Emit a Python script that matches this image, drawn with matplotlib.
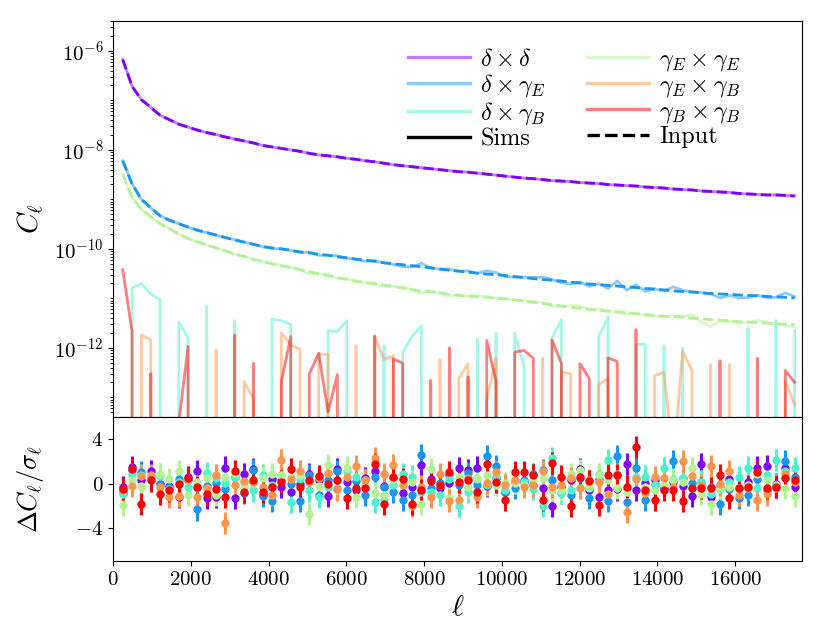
import numpy as np
import matplotlib
matplotlib.use('Agg')
import matplotlib.pyplot as plt
from matplotlib.lines import Line2D
from matplotlib.ticker import FixedLocator, NullFormatter, LogFormatterMathtext

plt.rcParams['font.family'] = 'serif'
plt.rcParams['font.serif'] = ['cmr10']
plt.rcParams['mathtext.fontset'] = 'cm'
plt.rcParams['axes.formatter.use_mathtext'] = True
plt.rcParams['axes.unicode_minus'] = True

# multipole bin centres
ells = np.arange(250, 17531, 240)

# input spectra, log10 C_ell
dd_log = [-6.175, -6.716, -6.986, -7.14, -7.30, -7.39, -7.48, -7.54, -7.60, -7.65,
          -7.69, -7.74, -7.78, -7.82, -7.86, -7.91, -7.94, -7.97, -8.00, -8.03,
          -8.07, -8.10, -8.12, -8.14, -8.17, -8.19, -8.22, -8.24, -8.27, -8.30,
          -8.32, -8.34, -8.36, -8.38, -8.40, -8.42, -8.44, -8.45, -8.47, -8.49,
          -8.51, -8.53, -8.55, -8.57, -8.58, -8.60, -8.62, -8.63, -8.64, -8.66,
          -8.67, -8.68, -8.70, -8.71, -8.72, -8.73, -8.75, -8.76, -8.77, -8.79,
          -8.80, -8.81, -8.83, -8.84, -8.85, -8.86, -8.88, -8.89, -8.90, -8.91,
          -8.91, -8.92, -8.93]
dg_log = [-8.22, -8.69, -9.00, -9.17, -9.33, -9.42, -9.49, -9.56, -9.62, -9.67,
          -9.72, -9.77, -9.82, -9.86, -9.91, -9.95, -9.98, -10.00, -10.03, -10.06,
          -10.08, -10.11, -10.13, -10.16, -10.18, -10.21, -10.23, -10.25, -10.28, -10.30,
          -10.32, -10.34, -10.36, -10.38, -10.41, -10.43, -10.45, -10.47, -10.49, -10.51,
          -10.52, -10.54, -10.56, -10.58, -10.60, -10.62, -10.63, -10.65, -10.67, -10.69,
          -10.71, -10.72, -10.74, -10.75, -10.77, -10.78, -10.80, -10.81, -10.83, -10.85,
          -10.86, -10.87, -10.89, -10.90, -10.91, -10.92, -10.93, -10.94, -10.95, -10.96,
          -10.97, -10.98, -10.99]
gg_log = [-8.49, -8.96, -9.20, -9.35, -9.49, -9.59, -9.70, -9.79, -9.86, -9.92,
          -9.98, -10.04, -10.11, -10.15, -10.21, -10.26, -10.30, -10.34, -10.38, -10.42,
          -10.46, -10.50, -10.54, -10.58, -10.62, -10.65, -10.68, -10.70, -10.73, -10.76,
          -10.79, -10.83, -10.85, -10.87, -10.89, -10.92, -10.94, -10.95, -10.97, -10.98,
          -11.00, -11.01, -11.03, -11.05, -11.08, -11.10, -11.13, -11.15, -11.18, -11.20,
          -11.22, -11.24, -11.26, -11.27, -11.29, -11.31, -11.33, -11.34, -11.36, -11.37,
          -11.38, -11.40, -11.41, -11.43, -11.44, -11.45, -11.47, -11.48, -11.49, -11.50,
          -11.51, -11.52, -11.53]

# simulated spectra: offsets from the input (dex) where visible
dg_dev = [0, 0.01, 0, 0, 0, 0, 0, 0, -0.01, 0,
          0, -0.005, 0.006, -0.008, 0.012, -0.01, -0.015, 0.003, 0, -0.015,
          0.016, -0.02, 0.006, 0.022, -0.011, 0.005, -0.02, 0.012, -0.006, -0.014,
          -0.039, -0.027, 0.069, -0.009, 0.003, 0.022, -0.003, 0.026, -0.003, 0.066,
          0.042, -0.019, -0.011, 0.009, 0.024, 0.05, 0.014, -0.034, -0.04, 0.022,
          -0.05, 0.016, -0.06, 0.1, -0.066, 0.058, -0.058, -0.002, -0.014, 0.082,
          0.025, 0.002, 0.009, -0.011, -0.081, -0.02, -0.059, -0.045, 0.018, -0.027,
          -0.007, 0.092, 0.029]
gg_dev = [0, 0, 0, 0, 0, 0, 0, 0, 0, 0,
          -0.01, 0.006, 0.01, -0.003, 0, 0.006, 0.009, 0.008, 0.007, 0.008,
          -0.054, -0.004, 0.033, -0.011, 0.029, -0.023, -0.002, -0.017, -0.02, 0.006,
          0.011, 0.005, -0.049, 0.035, -0.003, -0.035, 0.016, -0.008, 0.014, 0.022,
          -0.003, 0.001, 0.001, -0.003, 0.009, 0.02, -0.024, -0.022, 0.036, 0.048,
          -0.01, 0.03, 0.012, -0.016, -0.028, 0.016, -0.01, -0.024, -0.004, 0.014,
          0.01, 0.07, -0.07, -0.14, -0.018, -0.012, -0.018, -0.005, 0.045, 0.018,
          -0.008, -0.018, -0.053]

# noise-only simulated spectra (units of 1e-12; negative values fall off the log axis)
db_sim = [-1, 16.2, 19.95, 12.3, 9.3, -1, 3.3, 1.62, -1, 7.1,
          -1, -1, 3.55, -1, -1, -1, 3.8, 3.55, 3.0, -1,
          -1, -1, 2.24, 2.14, 3.55, -1, -1, -1, 1.12, -1,
          0.81, 1.70, 2.8, -1, -1, -1, -1, -1, 1.51, -1,
          2.0, -1, 2.0, 0.42, -1, -1, 1.6, 3.7, -1, -1,
          -1, 1.70, 4.2, -1, -1, 1.15, 1.20, -1, 1.12, -1,
          0.98, -1, -1, -1, -1, -1, -1, 2.5, -1, -1,
          3.55, -1, 2.24]
eb_sim = [-1, -1, 1.82, 1.45, -1, -1, -1, -1, -1, -1,
          0.91, -1, -1, 0.21, 0.095, -1, -1, 2.0, 1.15, 0.93,
          -1, 0.74, 0.74, -1, -1, 1.12, -1, 1.70, 0.58, 0.69,
          -1, -1, -1, -1, 0.58, -1, 0.24, 0.48, -1, 0.085,
          0.62, -1, -1, -1, -1, 0.62, -1, 0.33, 0.30, -1,
          -1, 0.18, 0.24, -1, -1, -1, -1, 0.275, 0.32, 0.005,
          0.85, 0.355, -1, 0.46, -1, 0.46, -1, -1, -1, -1,
          -1, 0.21, 0.072]
bb_sim = [38.0, 2.14, -1, 0.30, -1, -1, 0.03, 1.07, -1, -1,
          -1, -1, 1.82, -1, 0.49, -1, -1, 0.21, 1.70, -1,
          0.30, 0.78, 0.051, 0.29, -1, -1, -1, 1.74, -1, 0.60,
          0.49, -1, -1, 0.22, -1, 1.0, -1, 0.26, -1, 1.41,
          0.21, -1, 0.82, 0.89, 0.62, -1, 1.45, 0.49, -1, 0.48,
          0.24, -1, 0.63, 0.53, -1, 2.34, -1, -1, -1, -1,
          -1, -1, -1, -1, 0.55, -1, -1, -1, 0.62, -1,
          -1, 0.35, 0.20]

# residuals (Sims - Input) / sigma
res_dd = [-0.3, 1.5, 0.3, 1.1, 0.0, -0.2, -1.15, 0.6, 1.15, -1.3,
          -1.15, 1.45, -1.3, 0.85, 1.35, -1.0, 0.4, -0.3, -0.75, 0.0,
          0.85, 0.3, -1.05, 1.35, 0.15, -0.6, 0.5, 1.15, -0.2, 0.55,
          -0.85, -0.25, 1.65, 0.45, -0.4, 0.1, 1.4, 1.2, 1.45, -0.2,
          0.5, -0.75, 0.2, 0.2, -0.1, -0.35, -2.0, -0.3, 0.3, 1.3,
          -0.6, -1.15, -0.55, -0.5, 1.75, -0.55, 0.05, 0.3, -0.45, 0.15,
          -0.2, -1.05, 1.75, -1.15, -0.25, 0.45, -0.35, 0.2, 1.45, 1.55,
          0.0, 1.45, -0.25]
res_dg = [-0.85, 1.2, 1.05, 0.65, 0.0, -0.3, 0.45, 0.35, -2.3, -0.2,
          0.1, -0.5, 0.6, -0.8, 1.2, -1.05, -1.5, 0.3, 0.0, -1.5,
          0.8, -1.0, 0.3, 1.1, -0.55, 0.25, -1.0, 0.6, -0.3, -0.7,
          -1.45, -1.0, 2.55, -0.35, 0.1, 0.8, -0.1, 0.95, -0.1, 2.45,
          1.55, -0.7, -0.4, 0.35, 0.9, 1.25, 0.35, -0.85, -1.0, 0.55,
          -1.25, 0.4, -1.5, 2.5, -1.65, 1.45, -1.45, -0.05, -0.35, 2.05,
          0.55, 0.05, 0.2, -0.25, -1.8, -0.45, -1.3, -1.0, 0.4, -0.6,
          -0.15, 2.05, 0.65]
res_db = [-0.95, 0.8, 0.8, 0.5, 0.7, -0.45, 0.2, -0.3, -0.4, 0.95,
          0.5, 0.05, 0.65, 0.2, -0.6, 0.75, -0.1, 0.8, -1.6, 0.4,
          -0.6, -1.15, -0.3, -0.35, 1.15, 0.6, 0.35, -1.65, -1.45, -0.1,
          0.9, 0.65, -0.7, -0.7, -1.0, 0.4, -2.0, -0.75, 0.4, -0.1,
          0.6, -0.55, 0.3, 0.2, -0.45, -2.0, 2.3, -0.85, -0.55, -0.35,
          -0.4, 0.85, 2.15, 0.85, -0.35, 0.65, 0.65, -0.15, 1.4, 0.4,
          0.55, -0.35, 0.2, -0.9, -0.5, 0.2, 0.6, 1.45, -0.35, 0.8,
          2.15, 1.1, 1.4]
res_gg = [-1.9, 0.35, -0.2, 0.7, 0.9, 0.4, 1.1, -1.0, 0.2, 0.5,
          -1.0, 0.6, 1.0, -0.3, 0.05, 0.55, 0.9, 0.8, 0.65, 0.8,
          -2.7, -0.2, 1.65, -0.55, 1.45, -1.15, -0.1, -0.85, -1.0, 0.3,
          0.4, 0.2, -1.8, 1.3, -0.1, -1.3, 0.6, -0.3, 0.5, 0.8,
          -0.1, 0.05, 0.05, -0.1, 0.35, 0.5, -0.6, -0.55, 0.9, 1.2,
          -0.25, 0.75, 0.3, -0.4, -0.7, 0.4, -0.25, -0.6, -0.1, 0.35,
          0.2, 1.4, -0.9, -1.8, -0.35, -0.25, -0.35, -0.1, 0.9, 0.35,
          -0.15, -0.35, -1.05]
res_eb = [-0.6, -0.2, 0.7, 0.8, -0.25, -1.2, -1.1, 0.3, -1.2, -0.4,
          0.8, -3.5, -0.1, 0.25, 0.2, -0.25, -1.0, 2.15, 0.4, 1.15,
          0.2, 0.5, 0.95, -0.5, 0.6, 1.6, 0.35, 2.3, 0.85, 1.7,
          -0.1, -1.95, -0.25, -1.15, 0.85, -1.5, -1.45, 0.5, -1.15, 0.05,
          1.05, -0.1, 0.35, -0.25, -0.15, 1.1, -0.25, -0.1, 0.5, -0.35,
          0.3, 0.2, -0.95, 0.75, -2.5, 0.4, -0.85, 0.6, 0.55, -0.25,
          2.0, 0.7, -0.1, 1.55, -0.05, 1.1, -1.0, -0.35, -1.45, -0.95,
          -0.35, 0.9, 0.2]
res_bb = [-0.45, 1.35, -1.8, 0.3, -0.9, -0.6, 0.0, 0.5, -0.3, -0.9,
          -0.45, -1.2, 1.15, -0.7, 0.35, -0.75, -0.25, 0.2, 1.35, -0.25,
          0.3, 0.7, 0.0, 0.35, -1.3, -0.35, -0.4, 1.75, -1.8, 0.6,
          0.45, -1.8, -0.6, 0.25, -0.1, 1.05, 0.2, 0.35, -0.75, 1.75,
          0.2, -1.45, 1.05, 1.05, 0.75, -1.45, 1.85, 0.65, -1.95, 0.65,
          0.25, -1.9, 0.8, 0.8, -0.25, 3.3, -0.6, -1.45, -0.55, -0.55,
          -1.55, -0.35, -0.35, -0.4, 0.8, -1.3, -0.35, -0.25, 1.05, -0.35,
          -0.25, 0.55, 0.35]
res_err = 1.0

labels = [r'$\delta\times\delta$', r'$\delta\times\gamma_E$', r'$\delta\times\gamma_B$',
          r'$\gamma_E\times\gamma_E$', r'$\gamma_E\times\gamma_B$', r'$\gamma_B\times\gamma_B$']
colors = plt.cm.rainbow(np.linspace(0, 1, 6))

dd_in = 10.0 ** np.array(dd_log)
dg_in = 10.0 ** np.array(dg_log)
gg_in = 10.0 ** np.array(gg_log)
sims = [dd_in,
        10.0 ** (np.array(dg_log) + np.array(dg_dev)),
        np.array(db_sim) * 1e-12,
        10.0 ** (np.array(gg_log) + np.array(gg_dev)),
        np.array(eb_sim) * 1e-12,
        np.array(bb_sim) * 1e-12]
inputs = [dd_in, dg_in, None, gg_in, None, None]
resids = [res_dd, res_dg, res_db, res_gg, res_eb, res_bb]

fig = plt.figure(figsize=(8.22, 6.33), dpi=100)
ax1 = fig.add_axes([0.1375, 0.3417, 0.8382, 0.6256])
ax2 = fig.add_axes([0.1375, 0.1130, 0.8382, 0.2287], sharex=ax1)

for k in range(6):
    ax1.plot(ells, sims[k], '-', color=colors[k], alpha=0.5, lw=2)
for k in range(6):
    if inputs[k] is not None:
        ax1.plot(ells, inputs[k], '--', color=colors[k], lw=2)

ax1.set_yscale('log', nonpositive='clip')
ax1.set_ylim(10 ** -13.39, 10 ** -5.39)
ax1.set_xlim(0, 17720)
major = [1e-12, 1e-10, 1e-8, 1e-6]
minor = [m * 10.0 ** e for e in range(-14, -5) for m in range(1, 10)
         if not (m == 1 and e % 2 == 0)]
ax1.yaxis.set_major_locator(FixedLocator(major))
ax1.yaxis.set_major_formatter(LogFormatterMathtext())
ax1.yaxis.set_minor_locator(FixedLocator(minor))
ax1.yaxis.set_minor_formatter(NullFormatter())
ax1.tick_params(axis='x', bottom=False, labelbottom=False)
ax1.tick_params(axis='y', labelsize=15)
ax1.set_ylabel(r'$C_\ell$', fontsize=21)
ax1.yaxis.set_label_coords(-0.098, 0.5)

handles = [Line2D([], [], color=colors[0], alpha=0.5, lw=2.4),
           Line2D([], [], color=colors[1], alpha=0.5, lw=2.4),
           Line2D([], [], color=colors[2], alpha=0.5, lw=2.4),
           Line2D([], [], color='k', lw=2.4),
           Line2D([], [], color=colors[3], alpha=0.5, lw=2.4),
           Line2D([], [], color=colors[4], alpha=0.5, lw=2.4),
           Line2D([], [], color=colors[5], alpha=0.5, lw=2.4),
           Line2D([], [], color='k', ls='--', lw=2.4)]
leg_labels = [labels[0], labels[1], labels[2], 'Sims',
              labels[3], labels[4], labels[5], 'Input']
ax1.legend(handles, leg_labels, ncol=2, loc='upper left', frameon=False,
           fontsize=17.5, handlelength=2.55, handletextpad=0.4,
           labelspacing=0.05, columnspacing=1.7, borderpad=0.4,
           bbox_to_anchor=(0.397, 0.985))

for k in range(6):
    ax2.errorbar(ells, resids[k], yerr=res_err, fmt='o', color=colors[k],
                 ms=5, elinewidth=2.2, capsize=0)
ax2.set_ylim(-6.95, 6.0)
ax2.set_yticks([-4, 0, 4])
ax2.set_xticks(range(0, 17000, 2000))
ax2.tick_params(labelsize=15)
ax2.set_ylabel(r'$\Delta C_\ell/\sigma_\ell$', fontsize=19)
ax2.yaxis.set_label_coords(-0.098, 0.5)
ax2.set_xlabel(r'$\ell$', fontsize=21)

fig.savefig('out.png', dpi=100)
